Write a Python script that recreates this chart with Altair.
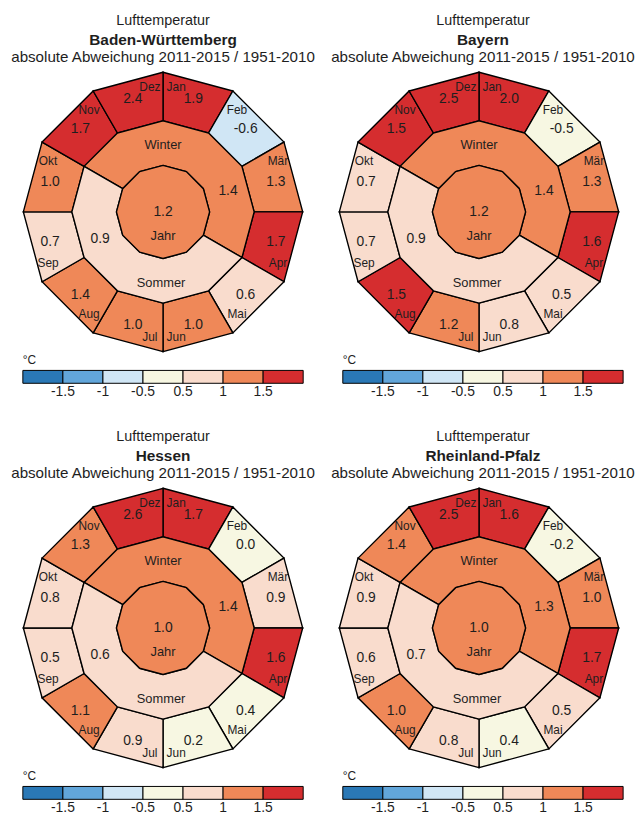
import math
import bisect
import altair as alt
import pandas as pd

# ---------------- data ----------------
months = ["Jan", "Feb", "Mär", "Apr", "Mai", "Jun", "Jul", "Aug", "Sep", "Okt", "Nov", "Dez"]
states = ["Baden-Württemberg", "Bayern", "Hessen", "Rheinland-Pfalz"]

bw_months = [1.9, -0.6, 1.3, 1.7, 0.6, 1.0, 1.0, 1.4, 0.7, 1.0, 1.7, 2.4]
by_months = [2.0, -0.5, 1.3, 1.6, 0.5, 0.8, 1.2, 1.5, 0.7, 0.7, 1.5, 2.5]
he_months = [1.7, 0.0, 0.9, 1.6, 0.4, 0.2, 0.9, 1.1, 0.5, 0.8, 1.3, 2.6]
rp_months = [1.6, -0.2, 1.0, 1.7, 0.5, 0.4, 0.8, 1.0, 0.6, 0.9, 1.4, 2.5]

season_names = ["Winter", "Sommer", "Jahr"]
bw_seasons = [1.4, 0.9, 1.2]
by_seasons = [1.4, 0.9, 1.2]
he_seasons = [1.4, 0.6, 1.0]
rp_seasons = [1.3, 0.7, 1.0]

thresholds = [-1.5, -1, -0.5, 0.5, 1, 1.5]
threshold_labels = ["-1.5", "-1", "-0.5", "0.5", "1", "1.5"]
class_colors = ["#2a78b6", "#62a6da", "#d0e6f5", "#f7f7e2", "#f9dccd", "#ef8858", "#d52d2f"]

title_line1 = "Lufttemperatur"
title_line3 = "absolute Abweichung 2011-2015 / 1951-2010"

panels = [
    (states[0], bw_months, bw_seasons),
    (states[1], by_months, by_seasons),
    (states[2], he_months, he_seasons),
    (states[3], rp_months, rp_seasons),
]

# ---------------- geometry (layout) ----------------
R_OUT, R_MID, R_IN = 141, 92, 47
FONT = "Liberation Sans, Arial, sans-serif"
TXT = "#1e1e1e"


def pt(r, a):
    return [r * math.sin(math.radians(a)), r * math.cos(math.radians(a))]


def ring(r1, r2, a0, a1):
    n = int(round((a1 - a0) / 30))
    outer = [pt(r1, a0 + 30 * k) for k in range(n + 1)]
    inner = [pt(r2, a0 + 30 * k) for k in range(n, -1, -1)]
    return outer + inner + [outer[0]]


def cls(v):
    return bisect.bisect_right(thresholds, v + 1e-9)


def feature(coords, v):
    return {"type": "Feature", "properties": {"cls": cls(v), "value": v},
            "geometry": {"type": "Polygon", "coordinates": [coords]}}


def make_panel(state, mvals, svals, cx, cy, legend_x):
    feats = []
    for i, v in enumerate(mvals):
        feats.append(feature(ring(R_OUT, R_MID, 30 * i, 30 * i + 30), v))
    feats.append(feature(ring(R_MID, R_IN, 300, 480), svals[0]))
    feats.append(feature(ring(R_MID, R_IN, 120, 300), svals[1]))
    jahr = [pt(R_IN, 30 * k) for k in range(13)]
    feats.append(feature(jahr, svals[2]))

    proj = dict(type="identity", reflectY=True, scale=1, translate=[cx, cy])

    shapes = alt.Chart(alt.Data(values=feats)).mark_geoshape(
        stroke="black", strokeWidth=1.4
    ).encode(
        color=alt.Color(
            "properties.cls:Q",
            scale=alt.Scale(type="threshold", domain=[1, 2, 3, 4, 5, 6], range=class_colors),
            legend=alt.Legend(
                type="gradient", orient="none", legendX=legend_x, legendY=347,
                direction="horizontal", gradientLength=283, gradientThickness=13,
                gradientStrokeColor="black", gradientStrokeWidth=1,
                title="°C", titleFontSize=12, titleFontWeight="normal", titleFont=FONT,
                titleColor=TXT, titlePadding=3, padding=0,
                labelFont=FONT, labelFontSize=14, labelColor=TXT, labelOffset=2,
                labelOverlap=False, labelAlign="center",
                labelExpr="%s[datum.value - 1]" % str(threshold_labels),
            ),
        )
    ).project(**proj)

    rows = []
    for i, (m, v) in enumerate(zip(months, mvals)):
        ac = 30 * i + 15
        upper = math.cos(math.radians(ac)) > 0
        if upper:
            an = ac - 9 if ac < 180 else ac + 9
        else:
            an = ac + 9 if ac < 180 else ac - 9
        x, y = pt(118, ac)
        rows.append(dict(lon=x, lat=y, t=f"{v:.1f}", fs=14))
        x, y = pt(127, an)
        rows.append(dict(lon=x, lat=y, t=m, fs=12))
    x, y = pt(68, 0)
    rows.append(dict(lon=x, lat=y, t=season_names[0], fs=13))
    x, y = pt(69, 72)
    rows.append(dict(lon=x, lat=y, t=f"{svals[0]:.1f}", fs=14))
    x, y = pt(72, 180)
    rows.append(dict(lon=x - 2, lat=y, t=season_names[1], fs=13))
    x, y = pt(69, 247)
    rows.append(dict(lon=x, lat=y, t=f"{svals[1]:.1f}", fs=14))
    rows.append(dict(lon=0, lat=0, t=f"{svals[2]:.1f}", fs=14))
    rows.append(dict(lon=0, lat=-24, t=season_names[2], fs=13))

    labels = alt.Chart(pd.DataFrame(rows)).mark_text(
        font=FONT, color=TXT, baseline="middle", align="center"
    ).encode(
        longitude="lon:Q", latitude="lat:Q", text="t:N",
        size=alt.Size("fs:Q", scale=None),
    ).project(**proj)

    dummy = pd.DataFrame({"a": [0]})
    t1 = alt.Chart(dummy).mark_text(text=title_line1, font=FONT, fontSize=14.5, color=TXT,
                                    baseline="middle").encode(x=alt.value(cx), y=alt.value(9))
    t2 = alt.Chart(dummy).mark_text(text=state, font=FONT, fontSize=15.5, fontWeight="bold",
                                    color=TXT, baseline="middle").encode(x=alt.value(cx), y=alt.value(28))
    t3 = alt.Chart(dummy).mark_text(text=title_line3, font=FONT, fontSize=15.3, color=TXT,
                                    baseline="middle").encode(x=alt.value(cx), y=alt.value(46))

    return alt.layer(shapes, labels, t1, t2, t3).properties(width=310, height=392)


p = [
    make_panel(panels[0][0], panels[0][1], panels[0][2], 156.5, 202, 15),
    make_panel(panels[1][0], panels[1][1], panels[1][2], 160.5, 202, 19),
    make_panel(panels[2][0], panels[2][1], panels[2][2], 156.5, 202, 15),
    make_panel(panels[3][0], panels[3][1], panels[3][2], 160.5, 202, 19),
]

row1 = alt.hconcat(p[0], p[1], spacing=8).resolve_scale(color="independent").resolve_legend(color="independent")
row2 = alt.hconcat(p[2], p[3], spacing=8).resolve_scale(color="independent").resolve_legend(color="independent")

chart = alt.vconcat(row1, row2, spacing=28).resolve_scale(
    color="independent"
).resolve_legend(color="independent").properties(padding=0).configure_view(stroke=None)

chart.save("out.html", embed_options={"renderer": "svg", "actions": False})
